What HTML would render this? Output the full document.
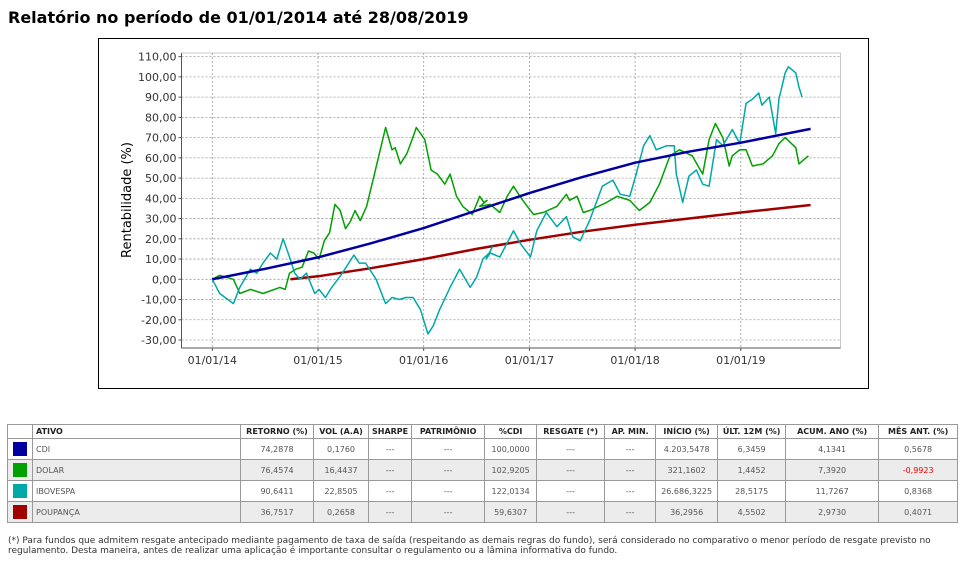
<!DOCTYPE html>
<html><head><meta charset="utf-8">
<style>
body{margin:0;background:#fff;width:974px;height:570px;overflow:hidden;font-family:"DejaVu Sans","Liberation Sans",sans-serif;}
#title{position:absolute;left:8px;top:8px;font-size:16px;font-weight:bold;color:#000;}
#box{position:absolute;left:98px;top:38px;width:769px;height:349px;border:1px solid #000;}
svg{position:absolute;left:0;top:0;}
table{position:absolute;left:7px;top:424px;border-collapse:collapse;font-size:8px;color:#555;}
td,th{border:1px solid #999;height:20px;padding:0 3px;text-align:center;}
th{height:13px;color:#222;font-weight:bold;}
tr.g td{background:#ececec;}
td.n{text-align:left;}
.sw{display:inline-block;width:14px;height:14px;vertical-align:middle;}
#note{position:absolute;left:8px;top:536px;font-size:9px;color:#333;line-height:10px;width:950px;}
</style></head><body>
<div id="title">Relatório no período de 01/01/2014 até 28/08/2019</div>
<div id="box"></div>
<svg id="chart" width="974" height="420"></svg>
<table>
<tr><th style="width:18px"></th><th style="width:201px;text-align:left">ATIVO</th><th style="width:66px">RETORNO (%)</th><th style="width:48px">VOL (A.A)</th><th style="width:36px">SHARPE</th><th style="width:66px">PATRIMÔNIO</th><th style="width:45px">%CDI</th><th style="width:61px">RESGATE (*)</th><th style="width:44px">AP. MIN.</th><th style="width:55px">INÍCIO (%)</th><th style="width:61px">ÚLT. 12M (%)</th><th style="width:86px">ACUM. ANO (%)</th><th style="width:72px">MÊS ANT. (%)</th></tr>
<tr><td><span class="sw" style="background:#0000a0"></span></td><td class="n">CDI</td><td>74,2878</td><td>0,1760</td><td>---</td><td>---</td><td>100,0000</td><td>---</td><td>---</td><td>4.203,5478</td><td>6,3459</td><td>4,1341</td><td>0,5678</td></tr>
<tr class="g"><td><span class="sw" style="background:#00a000"></span></td><td class="n">DOLAR</td><td>76,4574</td><td>16,4437</td><td>---</td><td>---</td><td>102,9205</td><td>---</td><td>---</td><td>321,1602</td><td>1,4452</td><td>7,3920</td><td style="color:#e00">-0,9923</td></tr>
<tr><td><span class="sw" style="background:#00a8a8"></span></td><td class="n">IBOVESPA</td><td>90,6411</td><td>22,8505</td><td>---</td><td>---</td><td>122,0134</td><td>---</td><td>---</td><td>26.686,3225</td><td>28,5175</td><td>11,7267</td><td>0,8368</td></tr>
<tr class="g"><td><span class="sw" style="background:#a00000"></span></td><td class="n">POUPANÇA</td><td>36,7517</td><td>0,2658</td><td>---</td><td>---</td><td>59,6307</td><td>---</td><td>---</td><td>36,2956</td><td>4,5502</td><td>2,9730</td><td>0,4071</td></tr>
</table>
<div id="note">(*) Para fundos que admitem resgate antecipado mediante pagamento de taxa de saída (respeitando as demais regras do fundo), será considerado no comparativo o menor período de resgate previsto no regulamento. Desta maneira, antes de realizar uma aplicação é importante consultar o regulamento ou a lâmina informativa do fundo.</div>
<script>
const yTicks=[110,100,90,80,70,60,50,40,30,20,10,0,-10,-20,-30];
const xTickYears=[0,1,2,3,4,5];
const xTickLabels=["01/01/14","01/01/15","01/01/16","01/01/17","01/01/18","01/01/19"];
// years since 01/01/14
const cdiT=[0,0.5,1,1.5,2,2.5,3,3.5,4,4.5,5,5.66];
const cdiV=[0,5.2,10.8,17.8,25.3,34,42.6,50.5,57.6,63,67.5,74.3];
const poupT=[0.74,1,1.5,2,2.5,3,3.5,4,4.5,5,5.66];
const poupV=[0,1.5,5.5,10,15,19.5,23.5,27,30,33,36.7];
const dolT=[0,0.07,0.2,0.26,0.36,0.48,0.64,0.69,0.73,0.79,0.85,0.91,0.96,1.01,1.06,1.11,1.16,1.21,1.26,1.31,1.35,1.4,1.46,1.52,1.58,1.64,1.7,1.73,1.78,1.84,1.89,1.93,2.01,2.07,2.13,2.2,2.25,2.31,2.37,2.46,2.53,2.57,2.6,
2.53,2.63,2.72,2.79,2.85,2.91,2.98,3.04,3.13,3.26,3.35,3.38,3.45,3.51,3.57,3.73,3.83,3.95,4.04,4.14,4.23,4.33,4.42,4.54,4.64,4.7,4.76,4.83,4.89,4.92,4.99,5.05,5.11,5.21,5.3,5.36,5.42,5.52,5.55,5.64];
const dolV=[0,2,0,-7,-5,-7,-4,-5,3,5,6,14,13,10,19,23,37,34,25,29,34,29,36,49,62,75,64,65,57,62,69,75,69,54,52,47,52,41,36,32,41,38,39,
36,37,33,41,46,41,36,32,33,36,42,39,41,33,34,38,41,39,34,38,47,61,64,61,52,69,77,70,56,61,64,64,56,57,61,67,70,65,57,61,75];
const ibvT=[0,0.07,0.2,0.26,0.36,0.42,0.48,0.55,0.61,0.67,0.73,0.78,0.83,0.89,0.97,1.01,1.07,1.13,1.23,1.34,1.39,1.45,1.55,1.64,1.7,1.77,1.83,1.9,1.97,2.04,2.09,2.15,2.25,2.34,2.44,2.5,2.56,2.62,2.65,
2.59,2.63,2.72,2.85,2.91,3.01,3.07,3.16,3.26,3.35,3.41,3.48,3.57,3.69,3.79,3.86,3.95,4.01,4.08,4.14,4.2,4.3,4.37,4.39,4.45,4.51,4.58,4.64,4.7,4.77,4.83,4.92,4.99,5.05,5.11,5.17,5.2,5.27,5.33,5.36,5.42,5.45,5.52,5.55,5.58];
const ibvV=[0,-7,-12,-4,5,3,8,13,10,20,11,3,0,3,-7,-5,-9,-4,3,12,8,8,0,-12,-9,-10,-9,-9,-15,-27,-23,-15,-4,5,-4,1,10,13,16,
10,13,11,24,18,11,24,33,26,31,21,19,29,46,49,42,41,52,66,71,64,66,66,52,38,51,54,47,46,69,66,74,67,87,89,92,86,90,72,89,102,105,102,95,90];

const L=181.5,R=840.5,T=53,B=348;
const xOf=t=>212.3+t*105.7;
const yOf=v=>279.3-v*2.024;
const svg=document.getElementById('chart');
const NS='http://www.w3.org/2000/svg';
function mk(tag,attrs){const e=document.createElementNS(NS,tag);for(const k in attrs)e.setAttribute(k,attrs[k]);svg.appendChild(e);return e;}
mk('rect',{x:L,y:T,width:R-L,height:B-T,fill:'#fff',stroke:'#c8c8c8'});
yTicks.forEach(v=>{
  const g=mk('line',{x1:L,x2:R,y1:yOf(v),y2:yOf(v),stroke:'#999','stroke-dasharray':'2,2','stroke-width':0.8});
  
  
  mk('line',{x1:L-3,x2:L,y1:yOf(v),y2:yOf(v),stroke:'#555'});
  const t=mk('text',{x:L-5,y:yOf(v)+4,'text-anchor':'end','font-size':11,fill:'#333','font-family':'DejaVu Sans,sans-serif'});
  t.textContent=v.toFixed(2).replace('.',',');
  
  
});
xTickYears.forEach((yr,i)=>{
  const x=xOf(yr);
  mk('line',{x1:x,x2:x,y1:T,y2:B,stroke:'#999','stroke-dasharray':'2,2','stroke-width':0.8});
  mk('line',{x1:x,x2:x,y1:B,y2:B+3,stroke:'#555'});
  const t=mk('text',{x:x,y:B+16,'text-anchor':'middle','font-size':11,fill:'#333','font-family':'DejaVu Sans,sans-serif'});
  t.textContent=xTickLabels[i];
  
  
});
mk('line',{x1:L,x2:L,y1:T,y2:B,stroke:'#555'});
mk('line',{x1:L,x2:R,y1:B,y2:B,stroke:'#555'});
const yl=mk('text',{x:0,y:0,transform:'translate(131,200) rotate(-90)','text-anchor':'middle','font-size':13,fill:'#000','font-family':'DejaVu Sans,sans-serif'});
yl.textContent='Rentabilidade (%)';


function line(ts,vs,color,w,name){
  const d=ts.map((t,i)=>(i?'L':'M')+xOf(t).toFixed(1)+','+yOf(vs[i]).toFixed(1)).join('');
  const p=mk('path',{d:d,fill:'none',stroke:color,'stroke-width':w,'stroke-linejoin':'round'});
  
  
}
line(poupT,poupV,'#a00000',2.5,'poupanca-line');
line(dolT,dolV,'#00a000',1.5,'dolar-line');
line(ibvT,ibvV,'#00a8a8',1.5,'ibovespa-line');
line(cdiT,cdiV,'#0000a0',2.5,'cdi-line');
</script>
</body></html>
